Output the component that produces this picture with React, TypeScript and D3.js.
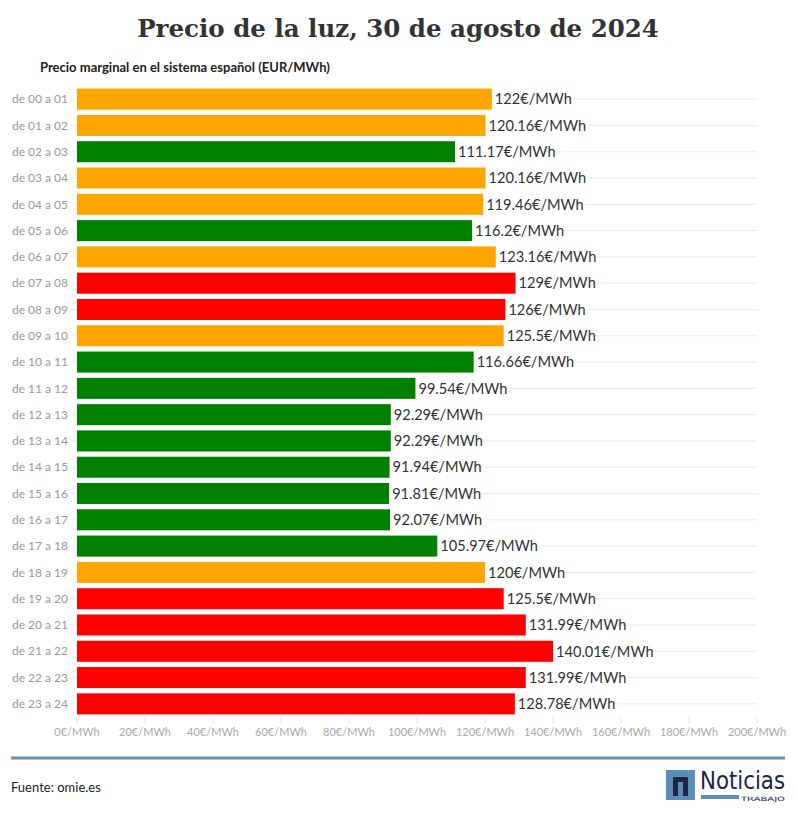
import * as d3 from 'd3'

const hours = [
  'de 00 a 01', 'de 01 a 02', 'de 02 a 03', 'de 03 a 04', 'de 04 a 05', 'de 05 a 06',
  'de 06 a 07', 'de 07 a 08', 'de 08 a 09', 'de 09 a 10', 'de 10 a 11', 'de 11 a 12',
  'de 12 a 13', 'de 13 a 14', 'de 14 a 15', 'de 15 a 16', 'de 16 a 17', 'de 17 a 18',
  'de 18 a 19', 'de 19 a 20', 'de 20 a 21', 'de 21 a 22', 'de 22 a 23', 'de 23 a 24',
]
const prices = [
  122, 120.16, 111.17, 120.16, 119.46, 116.2, 123.16, 129, 126, 125.5, 116.66, 99.54,
  92.29, 92.29, 91.94, 91.81, 92.07, 105.97, 120, 125.5, 131.99, 140.01, 131.99, 128.78,
]
// tramo de precio de cada hora
const levels = [
  'medio', 'medio', 'bajo', 'medio', 'medio', 'bajo', 'medio', 'alto', 'alto', 'medio', 'bajo', 'bajo',
  'bajo', 'bajo', 'bajo', 'bajo', 'bajo', 'bajo', 'medio', 'alto', 'alto', 'alto', 'alto', 'alto',
]
const xTicks = [0, 20, 40, 60, 80, 100, 120, 140, 160, 180, 200]

const levelColor: Record<string, string> = { bajo: '#008000', medio: '#FFA500', alto: '#FF0000' }

const W = 796
const H = 817
const sans = "'Source Sans Pro', Lato, 'Open Sans', sans-serif"

export default function App() {
  const x = d3.scaleLinear().domain([0, 200]).range([77, 757])
  const y = d3.scaleBand<string>().domain(hours).range([86, 717]).paddingInner(0.2).paddingOuter(0.1)
  const fmt = (v: number) => `${v}€/MWh`

  return (
    <svg width={W} height={H} style={{ position: 'absolute', left: 0, top: 0, background: '#fff' }}>
      <text x={W / 2} y={37} textAnchor="middle" fontFamily="'DejaVu Serif', serif" fontWeight="bold" fontSize={24.5} fill="#333">
        Precio de la luz, 30 de agosto de 2024
      </text>
      <text x={40} y={72} fontFamily={sans} fontWeight="bold" fontSize={13} fill="#222">
        Precio marginal en el sistema español (EUR/MWh)
      </text>

      {hours.map((h, i) => {
        const cy = (y(h) ?? 0) + y.bandwidth() / 2
        return (
          <g key={h}>
            <line x1={70} x2={x(200)} y1={cy} y2={cy} stroke="#ececec" strokeWidth={1} />
            <text x={68} y={cy} dy="0.35em" textAnchor="end" fontFamily={sans} fontSize={12} fill="#999">{h}</text>
            <rect x={x(0)} y={y(h)} width={x(prices[i]) - x(0)} height={y.bandwidth()} fill={levelColor[levels[i]]} />
            <rect x={x(prices[i]) + 1} y={cy - 9} width={fmt(prices[i]).length * 7.6 + 3} height={18} fill="#fff" />
            <text x={x(prices[i]) + 3} y={cy} dy="0.36em" fontFamily={sans} fontSize={14.6} fill="#333">{fmt(prices[i])}</text>
          </g>
        )
      })}

      {xTicks.map(t => (
        <g key={t}>
          <line x1={x(t)} x2={x(t)} y1={717} y2={724} stroke="#e5e5e5" />
          <text x={x(t)} y={736} textAnchor="middle" fontFamily={sans} fontSize={11} fill="#aaa">{fmt(t)}</text>
        </g>
      ))}

      <line x1={11} x2={785} y1={758} y2={758} stroke="#6790b0" strokeWidth={3} />
      <text x={11} y={792} fontFamily={sans} fontSize={13} fill="#222">Fuente: omie.es</text>

      <g>
        <rect x={666} y={770} width={29} height={30} fill="#5b8db8" />
        <path d="M673 796 V777 H688 V796 H683 V782 H678 V796 Z" fill="#1b2545" />
        <text x={700} y={789} fontFamily="'DejaVu Sans Condensed', 'DejaVu Sans', sans-serif" fontSize={24} fill="#1b2545" textLength={85} lengthAdjust="spacingAndGlyphs">Noticias</text>
        <rect x={701} y={795} width={38} height={4} fill="#5b8db8" />
        <text x={741} y={801} fontFamily="'DejaVu Sans', sans-serif" fontSize={6} fill="#1b2545" textLength={44} lengthAdjust="spacingAndGlyphs">TRABAJO</text>
      </g>
    </svg>
  )
}
